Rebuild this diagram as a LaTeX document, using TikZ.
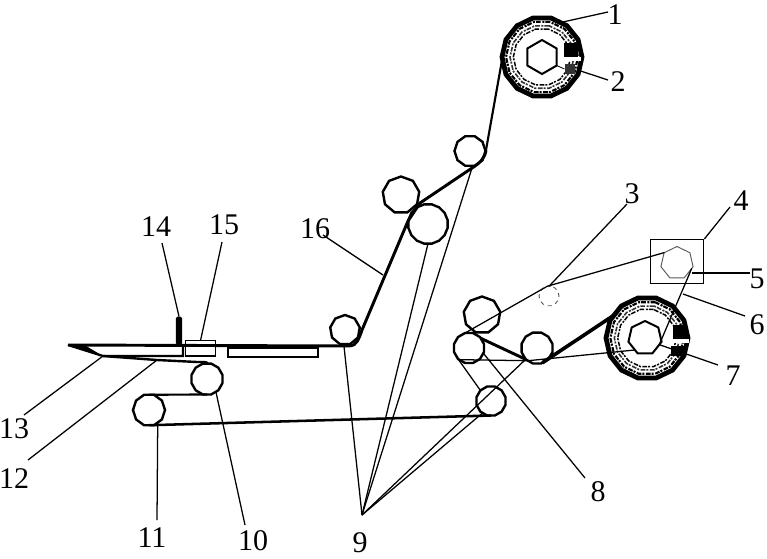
\documentclass[tikz,border=0pt]{standalone}
\usepackage{fontspec}
\setmainfont{Liberation Serif}
\usetikzlibrary{shapes.geometric}
\tikzset{
  roller/.style n args={2}{draw=black,line width=1.8pt,regular polygon,regular polygon sides=#1,minimum size=#2*1.5pt,inner sep=0pt,outer sep=0pt},
  ghost/.style n args={2}{draw=black!65,line width=.7pt,regular polygon,regular polygon sides=#1,minimum size=#2*1.5pt,inner sep=0pt,outer sep=0pt},
  leader/.style={draw=black,line width=.95pt},
  web/.style={draw=black,line width=1.6pt,line join=round},
  thickweb/.style={draw=black,line width=2.7pt,line join=round},
  rollrim/.style={draw=black,line width=3.6pt,regular polygon,regular polygon sides=14,inner sep=0pt,outer sep=0pt},
  hatch/.style={draw=black,line width=1.6pt,regular polygon,regular polygon sides=14,inner sep=0pt,outer sep=0pt,dash pattern=on 3.5pt off .8pt on 1.5pt off 1.2pt},
  lab/.style={font=\fontsize{22.5}{24}\selectfont,inner sep=0pt},
  plate/.style={draw=black,line width=1.7pt},
  thinplate/.style={draw=black,line width=.95pt},
}
\begin{document}
\begin{tikzpicture}[x=.75pt,y=-.75pt]
\useasboundingbox (0,0) rectangle (767,558);
% supply rolls
\node[rollrim,minimum size=60pt] (rollA) at (542,57) {};
\node[hatch,minimum size=54pt] (ringA1) at (542,57) {};
\node[hatch,minimum size=48pt,line width=1.2pt,draw=black!80] (ringA2) at (542,57) {};
\node[hatch,minimum size=43pt,line width=1.1pt] (ringA3) at (542,57) {};
\node[roller={6}{17},line width=1.5pt,shape border rotate=90] (hubA) at (542,57) {};
\node[fill=black,minimum width=10pt,minimum height=10pt,inner sep=0pt] (patchA) at (571,50) {};
\node[fill=black!80,minimum width=8pt,minimum height=8pt,inner sep=0pt] (patchB) at (570,69) {};
\draw[leader,line width=.6pt] (hubA.330) -- (patchB.west);
\node[fill=white,minimum width=14pt,minimum height=3.5pt,inner sep=0pt] (slitA) at (572,59) {};
\node[rollrim,minimum size=61.5pt] (rollB) at (647,338) {};
\node[hatch,minimum size=55pt] (ringB1) at (647,338) {};
\node[hatch,minimum size=49pt,line width=1.2pt,draw=black!80] (ringB2) at (647,338) {};
\node[hatch,minimum size=44pt,line width=1.1pt] (ringB3) at (647,338) {};
\node[roller={7}{17},line width=1.5pt] (hubB) at (645,338) {};
\node[fill=black,minimum width=11pt,minimum height=10pt,inner sep=0pt] (patchC) at (680,332) {};
\node[fill=black,minimum width=10pt,minimum height=8pt,inner sep=0pt] (patchD) at (678,351) {};
\node[fill=white,minimum width=14pt,minimum height=3.5pt,inner sep=0pt] (slitB) at (680,341) {};
% rollers
\node[roller={10}{15.5}] (ra) at (470,151) {};
\node[roller={9}{18.5}] (rb) at (401,195) {};
\node[roller={16}{20}] (rc) at (428,224) {};
\node[roller={9}{15}] (rd) at (345,330) {};
\node[roller={9}{18.5}] (re) at (482,315) {};
\node[roller={12}{15.5}] (rf) at (469,348) {};
\node[roller={12}{16}] (rg) at (537,348) {};
\node[roller={12}{15}] (rh) at (491,401) {};
\node[roller={12}{16}] (ri) at (207,379) {};
\node[roller={10}{16}] (rj) at (149,410) {};
\node[ghost={14}{10},dashed] (rk) at (549,296) {};
\node[ghost={7}{16.5}] (rl) at (677,263) {};
% named points
\coordinate (apex) at (362,515);
\coordinate (t0) at (68,345);
\coordinate (t1) at (103,356);
\coordinate (t2) at (183,356);
\coordinate (t3) at (183,345);
\coordinate (c1) at (486,150);
\coordinate (c2) at (472,168);
\coordinate (c3) at (420,203);
\coordinate (c4) at (408,221);
\coordinate (c5) at (362,330);
\coordinate (c6) at (350,346);
\coordinate (w1) at (157,360);
\coordinate (w2) at (197,362);
\coordinate (s5) at (692,273);
\coordinate (s6) at (683,294);
\coordinate (s16) at (383,275);
% plate
\draw[plate] (t0) -- (t1) -- (t2) -- (t3);
\draw[thickweb,line width=2.2pt] (t0) -- (c6);
\fill[black] (t0) -- (t1) -- (86,346) -- cycle;
\node[thinplate,minimum width=22.5pt,minimum height=11.5pt,inner sep=0pt,anchor=north west] (box15) at (185,340) {};
\node[plate,minimum width=67.5pt,minimum height=6.5pt,inner sep=0pt,anchor=north west] (tray) at (227,347) {};
\node[fill=black,minimum width=4.6pt,minimum height=21pt,inner sep=0pt,rounded corners=1pt,anchor=south] (bar14) at (179,345) {};
% main web
\draw[web] (rollA.182) -- (c1);
\draw[thickweb,line width=2.2pt] (c1) .. controls (485,158) and (480,163) .. (c2) -- (c3) -- (c4) -- (c5) .. controls (359,339) and (356,346) .. (c6);
\draw[thickweb,line width=1.8pt] (t1) -- (w1) -- (w2) .. controls (205,362) and (208,362) .. (ri.north);
\draw[web] (ri.south) -- (rj.north);
\draw[web,line width=1.9pt] (rj.south) -- (rh.south);
% right web
\draw[leader] (rf.230) -- (rg.235) -- (hubB.230);
\draw[thickweb] (rg.290) -- (rollB.145);
\draw[thickweb,line width=2.2pt] (rf.40) -- (rg.225);
\draw[leader] (rf.110) -- (rk.100) -- (rl.140);
\draw[leader] (rl.340) -- (hubB.335);
% leaders of 9
\draw[leader] (apex) -- (rd.265);
\draw[leader] (apex) -- (rc.south);
\draw[leader] (apex) -- (c2);
\draw[leader] (apex) -- (rg.225);
\draw[leader] (apex) -- (rh.235);
\draw[leader] (rf.225) -- (rh.135);
% labels
\node[lab] (l1) at (615,15) {1};
\node[lab] (l2) at (618,82) {2};
\node[lab] (l3) at (632,194) {3};
\node[lab] (l4) at (741,201) {4};
\node[lab] (l5) at (757,279) {5};
\node[lab] (l6) at (757,325) {6};
\node[lab] (l7) at (733,376) {7};
\node[lab] (l8) at (598,492) {8};
\node[lab] (l9) at (360,543) {9};
\node[lab] (l10) at (253,541) {10};
\node[lab] (l11) at (152,538) {11};
\node[lab] (l12) at (14,479) {12};
\node[lab] (l13) at (14,429) {13};
\node[lab] (l14) at (156,227) {14};
\node[lab] (l15) at (224,225) {15};
\node[lab] (l16) at (315,229) {16};
% box 4
\node[draw=black,line width=1pt,minimum width=39.75pt,minimum height=33pt,inner sep=0pt,anchor=north west] (box4) at (650,239) {};
% label leaders
\draw[leader] (l1) ++(-7,-3) -- (rollA.62);
\draw[leader] (l2) ++(-10,-2) -- (rollA.340);
\draw[leader] (l3) ++(-5,10) -- (rk.north);
\draw[leader] (l4) ++(-11,6) -- (box4.north east);
\draw[leader] (l5) ++(-7,-6) -- (s5);
\draw[leader] (l6) ++(-12,-9) -- (s6);
\draw[leader] (l7) ++(-15,-11) -- (hubB.335);
\draw[leader] (l8) ++(-13,-14) -- (rf.340);
\draw[leader] (l10) ++(-8,-16) -- (ri.305);
\draw[leader] (l11) ++(5,-18) -- (rj.305);
\draw[leader] (l12) ++(14,-19) -- (w1);
\draw[leader] (l13) ++(10,-14) -- (t1);
\draw[leader] (l14) ++(6,16) -- (bar14.north);
\draw[leader] (l15) ++(-2,17) -- (box15.north);
\draw[leader] (l16) ++(8,6) -- (s16);
\end{tikzpicture}
\end{document}
